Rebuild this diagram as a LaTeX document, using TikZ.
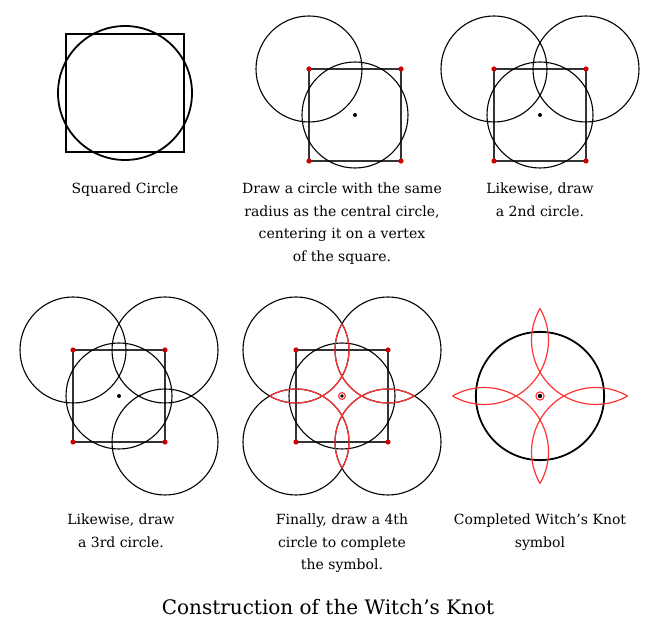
\documentclass[tikz,border=0pt]{standalone}
\usepackage{fontspec}
\setmainfont{DejaVu Serif}
\usetikzlibrary{calc}
\begin{document}
\begin{tikzpicture}[x=1pt,y=1pt,
  circ/.style={draw=black,line width=1.1pt},
  sq/.style={draw=black!80,line width=1.1pt},
  knot/.style={draw=red!80!white,line width=1.2pt},
  vdot/.style={fill=red!80!black},
  capt/.style={align=center,font=\fontsize{14}{22.5}\selectfont,anchor=north,inner sep=0pt},
]
\useasboundingbox (0,0) rectangle (654,635);
\def\A{46}\def\R{53}\def\al{29.76}
\newcommand\basepanel[3]{%
  \begin{scope}[shift={(#1,#2)}]
    \draw[sq] (-\A,-\A) rectangle (\A,\A);
    \draw[circ] (0,0) circle[radius=\R];
    \foreach \p in {#3}{\draw[circ] (\p:{\A*sqrt(2)}) circle[radius=\R];}
    \foreach \p in {45,135,225,315}{\fill[vdot] (\p:{\A*sqrt(2)}) circle[radius=2.6];}
  \end{scope}}
\newcommand\knotarcs{%
  \foreach \p in {45,135,225,315}{
    \pgfmathsetmacro\sa{\p+180-45-\al}
    \draw[knot] ($(\p:{\A*sqrt(2)})+(\sa:\R)$) arc[start angle=\sa, delta angle={90+2*\al}, radius=\R];}}
\newcommand\cdotring{\draw[red!80!white,line width=1.1pt] (0,0) circle[radius=3.4]; \fill (0,0) circle[radius=1.8];}
% Panel 1
\draw[line width=1.4pt] (66,483) rectangle (184,601);
\draw[line width=1.8pt] (125,542) circle[radius=67];
\node[capt] (c1) at (125,452) {Squared Circle};
% Panel 2
\basepanel{355}{520}{135}
\fill (355,520) circle[radius=2];
\node[capt] (c2) at (342,452) {Draw a circle with the same\\radius as the central circle,\\centering it on a vertex\\of the square.};
% Panel 3
\basepanel{540}{520}{135,45}
\fill (540,520) circle[radius=2];
\node[capt] (c3) at (540,452) {Likewise, draw\\a 2nd circle.};
% Panel 4
\basepanel{119}{239}{135,45,-45}
\fill (119,239) circle[radius=2];
\node[capt] (c4) at (121,121) {Likewise, draw\\a 3rd circle.};
% Panel 5
\basepanel{342}{239}{135,45,-45,225}
\begin{scope}[shift={(342,239)}]
  \knotarcs
  \cdotring
\end{scope}
\node[capt] (c5) at (342,121) {Finally, draw a 4th\\circle to complete\\the symbol.};
% Panel 6
\begin{scope}[shift={(540,239)},scale=1.21]
  \draw[line width=1.8pt] (0,0) circle[radius=\R];
  \knotarcs
  \cdotring
\end{scope}
\node[capt] (c6) at (540,121) {Completed Witch's Knot\\symbol};
% Title
\node[font=\fontsize{20}{24}\selectfont] (t) at (328,28) {Construction of the Witch's Knot};
\end{tikzpicture}
\end{document}
